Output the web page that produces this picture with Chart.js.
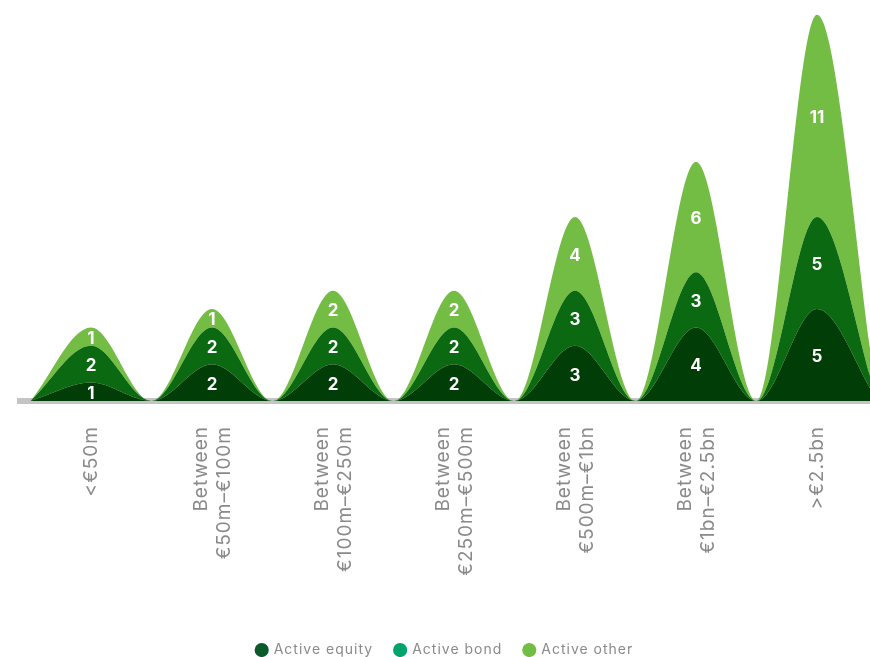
<!DOCTYPE html>
<html>
<head>
<meta charset="utf-8">
<script src="https://cdn.jsdelivr.net/npm/chart.js@4.4.1/dist/chart.umd.min.js"></script>
<style>
  html, body { margin: 0; padding: 0; background: #fff; }
  #wrap { width: 870px; height: 657px; }
</style>
</head>
<body>
<div id="wrap"><canvas id="fundChart"></canvas></div>
<script>
const categories = [
    ['<€50m'],
    ['Between', '€50m–€100m'],
    ['Between', '€100m–€250m'],
    ['Between', '€250m–€500m'],
    ['Between', '€500m–€1bn'],
    ['Between', '€1bn–€2.5bn'],
    ['>€2.5bn']
];
const activeEquity = [1, 2, 2, 2, 3, 4, 5];
const activeBond = [2, 2, 2, 2, 3, 3, 5];
const activeOther = [1, 1, 2, 2, 4, 6, 11];

const fillColors = ['#003d07', '#0a6911', '#73bd45'];
const legendColors = ['#0b5a2c', '#00a36b', '#73bd45'];

// each bump peaks at its category and drops to zero halfway to the next one
function bumps(values) {
    const pts = [{ x: -0.5, y: 0 }];
    values.forEach((v, i) => {
        pts.push({ x: i, y: v });
        pts.push({ x: i + 0.5, y: 0 });
    });
    return pts;
}

// slightly tracked-out text for axis and legend
const spacing = {
    id: 'spacing',
    beforeLayout(chart) { chart.ctx.letterSpacing = '1px'; },
    beforeDraw(chart) { chart.ctx.letterSpacing = '1px'; }
};

const valueLabels = {
    id: 'valueLabels',
    afterDatasetsDraw(chart) {
        const ctx = chart.ctx;
        const xs = chart.scales.x, ys = chart.scales.y;
        const series = [activeEquity, activeBond, activeOther];
        ctx.save();
        ctx.letterSpacing = '0px';
        ctx.fillStyle = '#ffffff';
        ctx.font = 'bold 17px Inter';
        ctx.textAlign = 'center';
        ctx.textBaseline = 'middle';
        categories.forEach((c, i) => {
            let base = 0;
            series.forEach(s => {
                const top = base + s[i];
                const y = (ys.getPixelForValue(base) + ys.getPixelForValue(top)) / 2;
                ctx.fillText(String(s[i]), xs.getPixelForValue(i), y + 2);
                base = top;
            });
        });
        ctx.restore();
    }
};

function layer(label, values, idx) {
    return {
        label: label,
        data: bumps(values),
        backgroundColor: fillColors[idx],
        borderWidth: 0,
        pointRadius: 0,
        cubicInterpolationMode: 'monotone',
        fill: idx === 0 ? 'origin' : '-1'
    };
}

new Chart(document.getElementById('fundChart'), {
    type: 'line',
    data: {
        datasets: [
            layer('Active equity', activeEquity, 0),
            layer('Active bond', activeBond, 1),
            layer('Active other', activeOther, 2)
        ]
    },
    options: {
        responsive: true,
        maintainAspectRatio: false,
        animation: false,
        layout: { padding: { left: 20, right: 0, top: 0, bottom: -10 } },
        plugins: {
            tooltip: { enabled: false },
            legend: {
                position: 'bottom',
                labels: {
                    usePointStyle: true,
                    pointStyle: 'circle',
                    boxWidth: 10,
                    boxHeight: 10,
                    padding: 22,
                    color: '#8a8a8a',
                    font: { family: 'Inter', size: 14 },
                    generateLabels(chart) {
                        return chart.data.datasets.map((ds, i) => ({
                            text: ds.label,
                            fillStyle: legendColors[i],
                            strokeStyle: legendColors[i],
                            lineWidth: 0,
                            pointStyle: 'circle',
                            fontColor: '#8a8a8a',
                            datasetIndex: i
                        }));
                    }
                }
            }
        },
        scales: {
            x: {
                type: 'linear',
                z: 1,
                min: -0.587,
                max: 6.438,
                grid: { display: false, drawTicks: false },
                border: { display: true, color: '#c4c4c4', width: 6 },
                // two-line labels sit half a line to the left so they stay centred
                afterBuildTicks(scale) {
                    scale.ticks = categories.map((c, i) => ({ value: i - (c.length - 1) * 0.09 }));
                },
                afterFit(scale) {
                    scale.height = 220;
                },
                ticks: {
                    autoSkip: false,
                    minRotation: 90,
                    maxRotation: 90,
                    padding: 25,
                    color: '#8a8a8a',
                    font: { family: 'Inter', size: 19 },
                    callback: (value, index) => categories[index]
                }
            },
            y: {
                display: false,
                stacked: true,
                min: 0,
                max: 21.8
            }
        }
    },
    plugins: [spacing, valueLabels]
});
</script>
</body>
</html>
